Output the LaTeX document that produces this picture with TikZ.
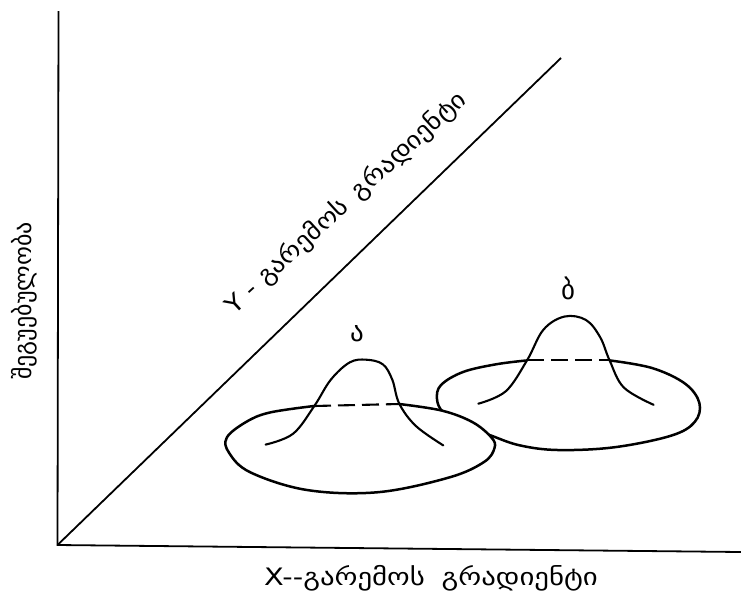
\documentclass[tikz,border=0pt]{standalone}
\usepackage{fontspec}
\newfontfamily\geo{DejaVu Sans}
\begin{document}
\begin{tikzpicture}[x=1pt,y=-1pt,
  axis/.style={line width=1.8pt},
  rim/.style={line width=2.5pt, line join=round},
  bell/.style={line width=2.1pt, line cap=round},
  hidden/.style={line width=2.1pt, dash pattern=on 17pt off 7pt},
  lbl/.style={font=\geo\fontsize{24}{28}\selectfont, inner sep=0pt},
  peak/.style={font=\geo\fontsize{27}{30}\selectfont, inner sep=0pt}]
\useasboundingbox (0,0) rectangle (741,603);
% axes
\coordinate (O) at (57.5,545);
\coordinate (T) at (58.5,11);
\coordinate (R) at (741,552);
\coordinate (D) at (561,58);
\draw[axis] (T) -- (O) -- (R);
\draw[axis] (O) -- (D);
% right brim
\draw[rim] plot[smooth, tension=0.6] coordinates {
 (609.6,360.4) (652,368) (685,383.6) (699.4,403) (694.7,422) (671,435.7)
 (614,447.3) (557.7,450) (520,445.4) (491.5,435.7) (462,424) (443,412)
 (437,399) (441,385) (463,372) (496,364.3) (527,360.4)};
\draw[hidden] (527,360.4) -- (609.6,360.4);
% right bell
\draw[bell] plot[smooth, tension=0.6] coordinates {
 (478.3,403.7) (505.7,391.3) (527,360.4) (543.5,329.6) (564.7,316.5)
 (586,320) (600.2,337.3) (609.6,360.4) (623.8,387.5) (653.6,404.8)};
% left brim (in front)
\fill[white] plot[smooth cycle, tension=0.6] coordinates {
 (399.3,404) (441.9,410.6) (472.6,422.2) (491.5,437.6) (494.5,448)
 (484,462) (449,477.5) (378,492.2) (307,490) (250.5,472.4) (229.2,453)
 (226.8,437.6) (245.7,422.2) (269.4,412.6) (314,406) (359,403.5)};
\draw[rim] plot[smooth, tension=0.6] coordinates {
 (399.3,404) (441.9,410.6) (472.6,422.2) (491.5,437.6) (494.5,448)
 (484,462) (449,477.5) (378,492.2) (307,490) (250.5,472.4) (229.2,453)
 (226.8,437.6) (245.7,422.2) (269.4,412.6) (314,406)};
\draw[hidden] (314,406) -- (399.3,404);
% left bell
\draw[bell] plot[smooth, tension=0.6] coordinates {
 (265.6,444.6) (293,433.8) (314.3,406) (330.8,379.7) (349.7,362.4) (366.3,359.7)
 (382.8,364.3) (392.3,379.7) (399.3,403.7) (415.9,426) (443.3,445.4)};
% labels
\node[peak] (la) at (357,334) {ა};
\node[peak] (lb) at (568,288) {ბ};
\node[lbl] (xl) at (431,578) {\scalebox{1.2}[1]{X--გარემოს\hspace{14pt}გრადიენტი}};
\node[lbl, rotate=42.5] (yl) at (346,203) {\scalebox{1.12}[1]{Y - გარემოს\hspace{12pt}გრადიენტი}};
\node[lbl, rotate=90] (vl) at (24,301) {შეგუებულობა};
\end{tikzpicture}
\end{document}
